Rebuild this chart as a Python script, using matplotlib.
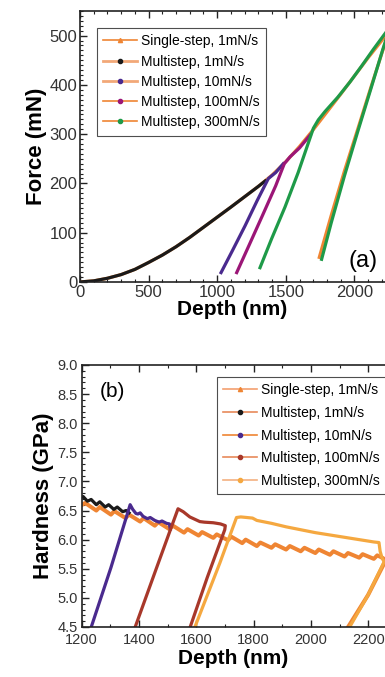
import matplotlib
matplotlib.use("Agg")
import matplotlib.pyplot as plt
from matplotlib.lines import Line2D
from matplotlib.ticker import MultipleLocator, FormatStrFormatter

plt.rcParams['font.family'] = ['Liberation Sans', 'DejaVu Sans']

# ---- panel (a): force vs depth ----
load_depth = [0, 100, 200, 300, 400, 500, 600, 700, 800, 900, 1000, 1100, 1200,
              1300, 1400, 1500, 1600, 1700, 1800, 1900, 2000, 2100, 2200, 2260]
load_force = [0, 2.2, 7.5, 15, 25.5, 39.6, 54.5, 71.5, 90.5, 111, 131.5, 152, 173,
              194, 217, 244, 275, 309, 345, 381, 418, 455, 490, 512]
single_unload_depth = [2260, 2207, 2120, 2024, 1927, 1831, 1744]
single_unload_force = [512, 470, 395, 310, 225, 135, 50]

black_depth = [0, 100, 200, 300, 400, 500, 600, 700, 800, 900, 1000, 1100, 1200, 1300, 1350]
black_force = [0, 2.2, 7.5, 15, 25.5, 39.6, 54.5, 71.5, 90.5, 111, 131.5, 152, 173, 194, 205]

purple_depth = [1028, 1108, 1203, 1291, 1373, 1426, 1482]
purple_force = [19, 62, 114, 165, 210, 222, 240]

magenta_depth = [1142, 1233, 1330, 1426, 1489, 1531, 1600, 1677]
magenta_force = [19, 75, 135, 195, 240, 254, 272, 298]

green_depth = [1312, 1397, 1494, 1590, 1701, 1737, 1786, 1879, 1968, 2052, 2138, 2260,
               2207, 2120, 2024, 1927, 1831, 1761]
green_force = [29, 88, 152, 222, 312, 329, 346, 375, 406, 438, 472, 518,
               472, 392, 305, 215, 120, 46]

# ---- panel (b): hardness vs depth ----
hs_depth = [1195, 1212, 1251, 1263, 1302, 1314, 1353, 1365, 1404, 1416, 1455, 1467,
            1506, 1518, 1557, 1569, 1608, 1620, 1659, 1671, 1710, 1722, 1760, 1772,
            1811, 1823, 1862, 1875, 1913, 1926, 1964, 1977, 2015, 2027, 2066, 2078,
            2117, 2129, 2168, 2180, 2219, 2231, 2252, 2258, 2199, 2123]
hs_hard = [6.58, 6.63, 6.50, 6.56, 6.43, 6.49, 6.37, 6.43, 6.31, 6.37, 6.24, 6.30,
           6.18, 6.24, 6.12, 6.18, 6.07, 6.13, 6.03, 6.09, 5.99, 6.05, 5.94, 6.00,
           5.89, 5.95, 5.86, 5.92, 5.83, 5.89, 5.80, 5.86, 5.77, 5.83, 5.74, 5.80,
           5.71, 5.77, 5.69, 5.75, 5.67, 5.73, 5.68, 5.62, 5.05, 4.45]

hb_depth = [1190, 1205, 1220, 1233, 1251, 1263, 1282, 1294, 1312, 1324, 1343, 1355, 1365]
hb_hard = [6.70, 6.74, 6.66, 6.69, 6.60, 6.65, 6.56, 6.60, 6.52, 6.56, 6.48, 6.50, 6.46]

hp_depth = [1230, 1302, 1369, 1378, 1389, 1396, 1404, 1414, 1429, 1439, 1455,
            1470, 1480, 1496, 1506, 1509]
hp_hard = [4.45, 5.52, 6.60, 6.52, 6.45, 6.44, 6.46, 6.40, 6.36, 6.38, 6.33,
           6.30, 6.32, 6.28, 6.27, 6.18]

hr_depth = [1383, 1460, 1536, 1554, 1577, 1612, 1628, 1659, 1684, 1701, 1699, 1638, 1575]
hr_hard = [4.45, 5.50, 6.53, 6.48, 6.39, 6.31, 6.30, 6.29, 6.27, 6.24, 6.17, 5.35, 4.45]

ho_depth = [1591, 1682, 1740, 1755, 1776, 1796, 1811, 1862, 1913, 1964, 2015, 2066,
            2117, 2168, 2219, 2237, 2241, 2248, 2255, 2199, 2129]
ho_hard = [4.45, 5.60, 6.38, 6.39, 6.38, 6.37, 6.33, 6.28, 6.22, 6.17, 6.12, 6.08,
           6.04, 6.00, 5.96, 5.95, 5.80, 5.68, 5.62, 5.05, 4.45]

labels_a = ["Single-step, 1mN/s", "Multistep, 1mN/s", "Multistep, 10mN/s",
            "Multistep, 100mN/s", "Multistep, 300mN/s"]
labels_b = ["Single-step, 1mN/s", "Multistep, 1mN/s", "Multistep, 10mN/s",
            "Multistep, 100mN/s", "Multistep, 300mN/s"]

col_orange = '#ef8533'
col_purple = '#4a2a8e'
col_magenta = '#9b1677'
col_green = '#1e9a48'
col_brown = '#a8382a'
col_light = '#f5a840'
lw = 2.3

fig = plt.figure(figsize=(3.85, 6.77), dpi=100)

# both panels are cut at the right edge like the original figure
ax1 = fig.add_axes([0.2078, 0.5835, 0.7922, 0.4003])
ax1.plot(load_depth, load_force, color=col_orange, lw=lw)
ax1.plot(single_unload_depth, single_unload_force, color=col_orange, lw=lw)
ax1.plot(black_depth, black_force, color='#1a1a1a', lw=lw)
ax1.plot(purple_depth, purple_force, color=col_purple, lw=lw)
ax1.plot(magenta_depth, magenta_force, color=col_magenta, lw=lw)
ax1.plot(green_depth, green_force, color=col_green, lw=lw)
ax1.set_xlim(0, 2223)
ax1.set_ylim(0, 550)
ax1.xaxis.set_major_locator(MultipleLocator(500))
ax1.xaxis.set_minor_locator(MultipleLocator(100))
ax1.yaxis.set_major_locator(MultipleLocator(100))
ax1.yaxis.set_minor_locator(MultipleLocator(10))
ax1.set_xlabel("Depth (nm)", fontsize=15, fontweight='bold', labelpad=0)
ax1.set_ylabel("Force (mN)", fontsize=16, fontweight='bold', labelpad=2)
ax1.text(2065, 42, "(a)", fontsize=17, ha='center', va='center')

handles_a = [
    Line2D([], [], color=col_orange, lw=1.2, marker='^', ms=3, mfc=col_orange, mec=col_orange),
    Line2D([], [], color='#f2a878', lw=2.0, marker='o', ms=3, mfc='#1a1a1a', mec='#1a1a1a'),
    Line2D([], [], color='#f2a878', lw=2.0, marker='o', ms=3, mfc=col_purple, mec=col_purple),
    Line2D([], [], color=col_orange, lw=1.2, marker='o', ms=3, mfc=col_magenta, mec=col_magenta),
    Line2D([], [], color=col_orange, lw=1.2, marker='o', ms=3, mfc=col_green, mec=col_green),
]
leg1 = ax1.legend(handles_a, labels_a, loc='upper left', bbox_to_anchor=(0.252, 0.9586),
                  bbox_transform=fig.transFigure, fontsize=10, frameon=True, fancybox=False,
                  edgecolor='#222222', handlelength=2.4, handletextpad=0.3,
                  labelspacing=0.45, borderpad=0.45, borderaxespad=0)
leg1.get_frame().set_linewidth(0.8)

ax2 = fig.add_axes([0.2122, 0.0739, 0.7878, 0.387])
ax2.plot(hs_depth, hs_hard, color=col_orange, lw=lw + 0.6)
ax2.plot(hb_depth, hb_hard, color='#1a1a1a', lw=lw)
ax2.plot(hp_depth, hp_hard, color=col_purple, lw=lw)
ax2.plot(hr_depth, hr_hard, color=col_brown, lw=lw)
ax2.plot(ho_depth, ho_hard, color=col_light, lw=lw)
ax2.set_xlim(1200, 2258)
ax2.set_ylim(4.5, 9.0)
ax2.xaxis.set_major_locator(MultipleLocator(200))
ax2.xaxis.set_minor_locator(MultipleLocator(100))
ax2.yaxis.set_major_locator(MultipleLocator(0.5))
ax2.yaxis.set_minor_locator(MultipleLocator(0.1))
ax2.yaxis.set_major_formatter(FormatStrFormatter('%.1f'))
ax2.set_xlabel("Depth (nm)", fontsize=15, fontweight='bold', labelpad=1)
ax2.set_ylabel("Hardness (GPa)", fontsize=16, fontweight='bold', labelpad=2)
ax2.text(1308, 8.55, "(b)", fontsize=15, ha='center', va='center')

handles_b = [
    Line2D([], [], color='#f3a070', lw=1.2, marker='^', ms=3, mfc=col_orange, mec=col_orange),
    Line2D([], [], color='#e88a5a', lw=1.2, marker='o', ms=3, mfc='#1a1a1a', mec='#1a1a1a'),
    Line2D([], [], color=col_orange, lw=1.2, marker='o', ms=3, mfc=col_purple, mec=col_purple),
    Line2D([], [], color='#e88a5a', lw=1.2, marker='o', ms=3, mfc=col_brown, mec=col_brown),
    Line2D([], [], color='#f3b080', lw=1.2, marker='o', ms=3, mfc=col_light, mec=col_light),
]
leg2 = ax2.legend(handles_b, labels_b, loc='upper left', bbox_to_anchor=(0.564, 0.443),
                  bbox_transform=fig.transFigure, fontsize=10, frameon=True, fancybox=False,
                  edgecolor='#222222', handlelength=2.4, handletextpad=0.3,
                  labelspacing=0.62, borderpad=0.45, borderaxespad=0)
leg2.get_frame().set_linewidth(0.8)

for ax in (ax1, ax2):
    ax.tick_params(which='both', direction='in', top=True, right=False,
                   colors='#222222', labelcolor='#333333')
    ax.tick_params(which='major', length=5, width=1, pad=2)
    ax.tick_params(which='minor', length=2.5, width=0.8)
    ax.spines['right'].set_visible(False)
    for s in ax.spines.values():
        s.set_linewidth(1.2)
        s.set_color('#222222')
ax1.tick_params(labelsize=12)
ax2.tick_params(labelsize=10.5)
ax2.tick_params(axis='x', pad=4.5)
ax2.tick_params(axis='y', pad=3)

fig.savefig("out.png", dpi=100)
